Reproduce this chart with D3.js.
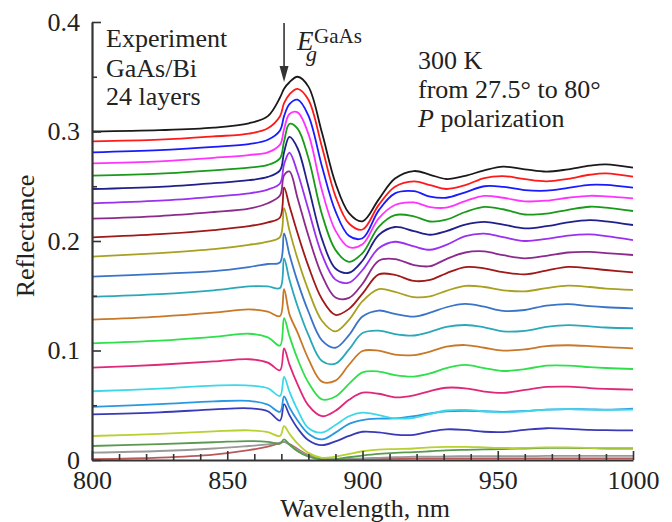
<!DOCTYPE html>
<html>
<head>
<meta charset="utf-8">
<script src="https://cdn.jsdelivr.net/npm/d3@7"></script>
<style>
  body { margin: 0; background: #fff; }
  svg { display: block; font-family: "Liberation Serif", "Times New Roman", serif; }
  .axis path, .axis line { stroke: #333; }
  .axis text { font-size: 26px; fill: #222; font-family: "Liberation Serif", serif; }
  .note { font-size: 26px; fill: #222; }
</style>
</head>
<body>
<script>
// wavelength grid (nm), shared by every curve
let wavelength = [800, 825, 845, 858, 865, 869.5, 871, 873, 876, 880, 885, 890, 895, 900,
                  906, 912, 919, 925, 931, 938, 945, 952, 960, 968, 976, 984, 990, 1000];

// reflectance curves, top to bottom as they sit at 800 nm
let r01 = [.300, .3012, .3035, .3075, .314, .331, .339, .345, .350, .341, .299, .253, .2255, .218,
           .238, .257, .2639, .2605, .2566, .2595, .2645, .2679, .2655, .2633, .2655, .2688, .270, .267];
let r02 = [.291, .2925, .2955, .298, .303, .314, .326, .334, .339, .329, .286, .241, .216, .2105,
           .233, .2496, .2545, .251, .2475, .251, .2575, .2593, .2565, .2545, .2568, .2605, .2617, .2587];
let r03 = [.281, .283, .286, .2885, .2925, .301, .314, .325, .329, .3146, .2683, .2272, .2047, .2025,
           .228, .2435, .2455, .2405, .2395, .2445, .250, .2495, .2465, .246, .2485, .2513, .2512, .2487];
let r04 = [.2709, .2728, .276, .2785, .281, .288, .302, .316, .3175, .2978, .2463, .2095, .1944, .197,
           .2207, .2329, .2352, .231, .2305, .2365, .2412, .2395, .2362, .2368, .2395, .2413, .2408, .239];
let r05 = [.2597, .2615, .2645, .267, .2695, .2755, .291, .307, .3026, .2757, .2245, .1919, .181, .189,
           .213, .2237, .2225, .2178, .2195, .2265, .2312, .229, .2242, .225, .2285, .2313, .2305, .2274];
let r06 = [.2475, .2495, .2528, .2555, .2585, .2645, .281, .295, .2847, .2496, .2019, .1749, .171, .182,
           .2055, .2128, .209, .2057, .209, .215, .2175, .215, .2115, .2135, .217, .219, .218, .2146];
let r07 = [.2344, .2368, .2405, .2435, .247, .2525, .270, .2806, .2623, .2287, .1878, .1647, .162, .1735,
           .1933, .1993, .195, .192, .1965, .2045, .2068, .2035, .200, .202, .205, .206, .2045, .2009];
let r08 = [.2204, .2228, .2265, .2295, .2345, .2415, .260, .2635, .2391, .2048, .1688, .1484, .148, .161,
           .182, .1835, .178, .177, .1835, .1895, .1905, .187, .1842, .1865, .1895, .190, .189, .1872];
let r09 = [.2034, .2062, .210, .2135, .217, .2215, .249, .232, .207, .177, .147, .1325, .138, .152,
           .1695, .169, .1635, .1645, .1705, .1762, .175, .1715, .1695, .173, .1763, .175, .1735, .1714];
let r10 = [.1857, .189, .1925, .1965, .1995, .2035, .230, .2097, .1837, .1549, .1272, .1175, .128, .145,
           .156, .1535, .1487, .1495, .1545, .159, .158, .155, .154, .157, .1592, .158, .1565, .1553];
let r11 = [.1674, .170, .1725, .1762, .179, .1805, .207, .1876, .1629, .1356, .1093, .1025, .114, .131,
           .1365, .1335, .131, .1345, .1395, .1425, .140, .1362, .137, .141, .1424, .1405, .1395, .1385];
let r12 = [.149, .1515, .155, .1585, .1585, .157, .184, .1646, .1404, .1142, .0904, .088, .101, .116,
           .1182, .115, .1137, .117, .1215, .1233, .1212, .1175, .118, .1215, .1232, .122, .121, .1203];
let r13 = [.1282, .131, .1345, .1375, .1355, .1315, .156, .133, .1164, .0924, .0716, .0725, .087, .0995,
           .0998, .0962, .0958, .099, .1035, .105, .1025, .0999, .101, .104, .1048, .104, .103, .102];
let r14 = [.1065, .109, .1125, .1153, .112, .1045, .1295, .1131, .0923, .0707, .0553, .058, .0695, .080,
           .0808, .0775, .0762, .079, .084, .0868, .084, .0813, .083, .0862, .0862, .0848, .084, .0831];
let r15 = [.0843, .087, .090, .092, .089, .082, .102, .0871, .0691, .0499, .040, .045, .055, .0615,
           .0605, .0572, .059, .063, .066, .0655, .0625, .0613, .064, .0667, .067, .0657, .065, .0642];
let r16 = [.0628, .0652, .068, .068, .0655, .0585, .076, .0625, .0458, .0292, .025, .032, .040, .0432,
           .041, .038, .0385, .042, .0452, .0458, .0445, .0435, .0445, .046, .0465, .046, .0458, .046];
let r17 = [.0485, .051, .0535, .054, .0505, .044, .058, .048, .036, .024, .0188, .025, .033, .0365,
           .0378, .038, .040, .0425, .0445, .045, .0445, .044, .0448, .046, .0465, .0462, .046, .047];
let r18 = [.0417, .0435, .0462, .0472, .0445, .036, .051, .041, .029, .018, .0135, .017, .022, .0258,
           .0252, .0232, .023, .026, .028, .0275, .0258, .0255, .0275, .029, .0285, .0275, .0272, .0271];
let r19 = [.0219, .0238, .0262, .0271, .0255, .0219, .031, .024, .015, .0065, .002, .003, .0055, .008,
           .0095, .010, .0105, .0115, .012, .012, .0115, .011, .011, .0115, .0115, .011, .011, .011];
let r20 = [.0128, .0145, .0162, .0173, .0165, .015, .0189, .014, .008, .003, .0005, .0008, .0025, .004,
           .0055, .0065, .0072, .008, .0088, .0093, .0097, .010, .0105, .011, .011, .0108, .0105, .0105];
let r21 = [.0067, .0082, .0105, .0128, .0142, .0158, .0168, .014, .009, .004, .001, .0003, .001, .0015,
           .002, .0025, .003, .003, .0033, .0035, .0035, .0035, .0035, .0037, .0037, .0037, .0037, .0038];
let r22 = [.0008, .0022, .005, .009, .0122, .0155, .0165, .0145, .010, .0045, .0012, 0, .0005, .001,
           .001, .0012, .0015, .0015, .0015, .0015, .0015, .0015, .0015, .0015, .0015, .0015, .0015, .0015];

let curves = [r01, r02, r03, r04, r05, r06, r07, r08, r09, r10, r11,
              r12, r13, r14, r15, r16, r17, r18, r19, r20, r21, r22];

let colors = ["#1a1a1a", "#ff1a1a", "#1a1aff", "#ff33ff", "#1a9a1a", "#20208a", "#9b30f0",
              "#8c2a8c", "#a01818", "#a8a020", "#3a74c8", "#2aa8b8", "#c87828", "#2ee04a",
              "#e0287a", "#3cd8e8", "#2a98e0", "#3a3ab8", "#b8d030", "#5a9a50", "#999999", "#b85a5a"];

// ticks
let yTicks = [0, 0.1, 0.2, 0.3, 0.4];
let yMinor = [0.05, 0.15, 0.25, 0.35];
let xTicks = [800, 850, 900, 950, 1000];
let xMinor = [810, 820, 830, 840, 860, 870, 880, 890, 910, 920, 930, 940, 960, 970, 980, 990];

let width = 672, height = 522;
let plot = {left: 92, right: 633, top: 22, bottom: 460};

let xScale = d3.scaleLinear().domain([800, 1000]).range([plot.left, plot.right]);
let yScale = d3.scaleLinear().domain([0, 0.4]).range([plot.bottom, plot.top]);

let svg = d3.select("body").append("svg")
    .attr("width", width)
    .attr("height", height);

// curves, bottom one first so the black curve ends up on top
let line = d3.line()
    .curve(d3.curveCatmullRom.alpha(0.5))
    .x(function(d) { return xScale(d[0]); })
    .y(function(d) { return yScale(d[1]); });

let curveData = curves.map(function(vals) {
    return wavelength.map(function(w, i) { return [w, vals[i]]; });
});

svg.append("g").selectAll("path")
    .data(curveData.slice().reverse())
  .enter().append("path")
    .attr("fill", "none")
    .attr("stroke", function(d, i) { return colors[curves.length - 1 - i]; })
    .attr("stroke-width", 1.8)
    .attr("stroke-linejoin", "round")
    .attr("d", line);

// y axis
svg.append("g")
    .attr("class", "axis")
    .attr("transform", "translate(" + plot.left + ",0)")
    .call(d3.axisLeft(yScale).tickValues(yTicks)
        .tickFormat(function(d) { return d === 0 ? "0" : d3.format(".1f")(d); })
        .tickSizeInner(-9).tickSizeOuter(0).tickPadding(12))
    .call(function(g) {
        g.select(".domain").attr("stroke-width", 2.2);
        g.selectAll(".tick line").attr("stroke-width", 1.6);
    });

svg.append("g")
    .attr("class", "axis")
    .attr("transform", "translate(" + plot.left + ",0)")
    .call(d3.axisLeft(yScale).tickValues(yMinor).tickFormat("").tickSize(-5))
    .call(function(g) {
        g.select(".domain").remove();
        g.selectAll(".tick line").attr("stroke-width", 1.6);
    });

// x axis
svg.append("g")
    .attr("class", "axis")
    .attr("transform", "translate(0," + plot.bottom + ")")
    .call(d3.axisBottom(xScale).tickValues(xTicks)
        .tickFormat(d3.format("d"))
        .tickSizeInner(-9).tickSizeOuter(0).tickPadding(11))
    .call(function(g) {
        g.select(".domain").attr("stroke-width", 2.2);
        g.selectAll(".tick line").attr("stroke-width", 1.6);
    });

svg.append("g")
    .attr("class", "axis")
    .attr("transform", "translate(0," + plot.bottom + ")")
    .call(d3.axisBottom(xScale).tickValues(xMinor).tickFormat("").tickSize(-6))
    .call(function(g) {
        g.select(".domain").remove();
        g.selectAll(".tick line").attr("stroke-width", 1.6);
    });

// axis titles
svg.append("text")
    .attr("class", "note")
    .attr("text-anchor", "middle")
    .attr("x", 365).attr("y", 517)
    .text("Wavelength, nm");

svg.append("text")
    .attr("class", "note")
    .attr("text-anchor", "middle")
    .attr("transform", "translate(34,236) rotate(-90)")
    .text("Reflectance");

// notes, left block
let leftNote = ["Experiment", "GaAs/Bi", "24 layers"];
svg.append("g").selectAll("text")
    .data(leftNote)
  .enter().append("text")
    .attr("class", "note")
    .attr("x", 106)
    .attr("y", function(d, i) { return [47, 77, 105][i]; })
    .text(function(d) { return d; });

// notes, right block
let right = svg.append("g");
right.append("text").attr("class", "note").attr("x", 418).attr("y", 69).text("300 K");
right.append("text").attr("class", "note").attr("x", 418).attr("y", 98).text("from 27.5° to 80°");
let pol = right.append("text").attr("class", "note").attr("x", 418).attr("y", 127);
pol.append("tspan").attr("font-style", "italic").text("P");
pol.append("tspan").text(" polarization");

// band gap marker
let xg = xScale(871);
svg.append("line")
    .attr("x1", xg).attr("x2", xg)
    .attr("y1", 23).attr("y2", 70)
    .attr("stroke", "#333").attr("stroke-width", 1.6);
svg.append("path")
    .attr("d", "M" + (xg - 4.5) + ",66L" + (xg + 4.5) + ",66L" + xg + ",82Z")
    .attr("fill", "#333");

let eg = svg.append("text").attr("x", xg + 13).attr("y", 50).attr("fill", "#222");
eg.append("tspan").attr("font-size", 27).attr("font-style", "italic").text("E");
eg.append("tspan").attr("font-size", 22).attr("font-style", "italic")
    .attr("x", xg + 22).attr("y", 61).text("g");
eg.append("tspan").attr("font-size", 21)
    .attr("x", xg + 30).attr("y", 43).text("GaAs");
</script>
</body>
</html>
